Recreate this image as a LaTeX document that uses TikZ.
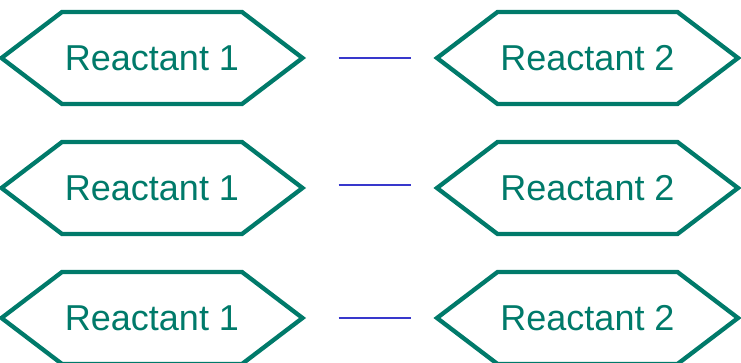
\documentclass[tikz,border=0pt]{standalone}
\usepackage{fontspec}
\setmainfont{Liberation Sans}
\definecolor{hexteal}{HTML}{007A6A}
\definecolor{connblue}{HTML}{3838CC}
\begin{document}
\begin{tikzpicture}[x=1pt,y=1pt,
  hexnode/.style={minimum width=301pt,minimum height=92pt,inner sep=0pt,outer sep=0pt,
    text=hexteal,font=\fontsize{36}{40}\selectfont},
  hexline/.style={draw=hexteal,line width=4.3pt,line join=miter},
  conn/.style={draw=connblue,line width=1.3pt,shorten <=36pt,shorten >=26pt}]
\useasboundingbox (0,0) rectangle (741,363);
\newcommand{\hexpath}[1]{%
  \path[hexline] ([xshift=-150.5pt]#1.center) -- ([xshift=-90pt]#1.north) -- ([xshift=90pt]#1.north)
    -- ([xshift=150.5pt]#1.center) -- ([xshift=90pt]#1.south) -- ([xshift=-90pt]#1.south) -- cycle;}
\foreach \i/\y/\dy in {1/305/0,2/175/3,3/45/0}{
  \node[hexnode] (a\i) at (152,\y) {Reactant 1};
  \node[hexnode] (b\i) at (587.5,\y) {Reactant 2};
  \hexpath{a\i}
  \hexpath{b\i}
  \draw[conn] ([yshift=\dy pt]a\i.east) -- ([yshift=\dy pt]b\i.west);
}
\end{tikzpicture}
\end{document}
